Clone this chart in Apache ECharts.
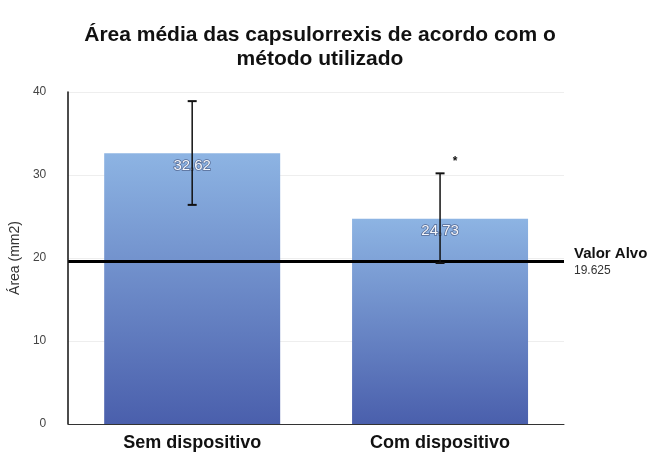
<!DOCTYPE html>
<html><head><meta charset="utf-8">
<script src="https://cdn.jsdelivr.net/npm/echarts@6/dist/echarts.min.js"></script>
<style>html,body{margin:0;padding:0;background:#fff}#c{width:655px;height:452px}</style>
</head><body><div id="c"></div>
<script>
const categories = ['Sem dispositivo', 'Com dispositivo'];
const means = [32.62, 24.73];
const errLow = [26.4, 19.4];
const errHigh = [38.9, 30.2];
const significance = ['', '*'];
const targetValue = 19.625;
const yTicks = [0, 10, 20, 30, 40];

const chart = echarts.init(document.getElementById('c'));
chart.setOption({
  animation: false,
  title: {
    text: 'Área média das capsulorrexis de acordo com o\nmétodo utilizado',
    left: 315, textAlign: 'center', top: 18,
    textStyle: {fontFamily: 'Liberation Sans', fontSize: 21, fontWeight: 'bold', color: '#111', lineHeight: 24}
  },
  grid: {left: 68, right: 91, top: 92, bottom: 27},
  xAxis: {
    type: 'category', data: categories,
    axisLine: {lineStyle: {color: '#333', width: 1}},
    axisTick: {show: false},
    axisLabel: {fontFamily: 'Liberation Sans', fontSize: 18, fontWeight: 'bold', color: '#111', margin: 10}
  },
  yAxis: {
    type: 'value', min: yTicks[0], max: yTicks[yTicks.length - 1], interval: 10,
    name: 'Área (mm2)', nameLocation: 'middle', nameGap: 44,
    nameTextStyle: {fontFamily: 'Liberation Sans', fontSize: 14, color: '#333'},
    axisLine: {show: true, lineStyle: {color: '#111', width: 1.5}},
    axisTick: {show: false},
    axisLabel: {fontFamily: 'Liberation Sans', fontSize: 12, color: '#444', margin: 22},
    splitLine: {lineStyle: {color: '#eeeeee'}}
  },
  series: [
    {
      type: 'bar', data: means, barWidth: '71%',
      itemStyle: {color: new echarts.graphic.LinearGradient(0, 0, 0, 1, [
        {offset: 0, color: '#8db4e3'}, {offset: 1, color: '#4a5fac'}])},
      label: {show: true, position: 'insideTop', distance: 5, formatter: p => p.value.toFixed(2),
        fontFamily: 'Liberation Sans', fontSize: 15, color: '#f4f6fb', textBorderColor: '#556a94', textBorderWidth: 1.5},
      markLine: {
        silent: true, symbol: 'none',
        lineStyle: {color: '#000', width: 3, type: 'solid'},
        data: [{yAxis: targetValue}],
        label: {position: 'end', distance: 10,
          formatter: '{a|Valor Alvo}\n{b|' + targetValue + '}',
          rich: {
            a: {fontFamily: 'Liberation Sans', fontSize: 15, fontWeight: 'bold', color: '#111', lineHeight: 19},
            b: {fontFamily: 'Liberation Sans', fontSize: 12, color: '#333', lineHeight: 15}
          }}
      },
      z: 2
    },
    {
      type: 'custom', z: 5,
      data: categories.map((c, i) => [i, errLow[i], errHigh[i]]),
      renderItem: function (params, api) {
        const x = api.coord([api.value(0), 0])[0];
        const lo = api.coord([api.value(0), api.value(1)])[1];
        const hi = api.coord([api.value(0), api.value(2)])[1];
        const w = 4.5;
        const style = {stroke: '#111', lineWidth: 1.5};
        const ch = [
          {type: 'line', shape: {x1: x, y1: lo, x2: x, y2: hi}, style},
          {type: 'line', shape: {x1: x - w, y1: lo, x2: x + w, y2: lo}, style: {stroke: '#111', lineWidth: 2}},
          {type: 'line', shape: {x1: x - w, y1: hi, x2: x + w, y2: hi}, style: {stroke: '#111', lineWidth: 2}}
        ];
        const s = significance[params.dataIndex];
        if (s) ch.push({type: 'text', x: x + 15, y: hi - 12, style: {text: s, fontFamily: 'Liberation Sans', fontSize: 12, fontWeight: 'bold', fill: '#111', align: 'center', verticalAlign: 'middle'}});
        return {type: 'group', children: ch};
      }
    }
  ]
});
</script></body></html>
